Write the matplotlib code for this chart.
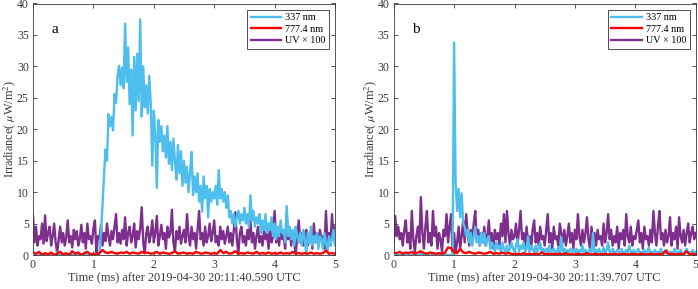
import numpy as np
import matplotlib
matplotlib.use('Agg')
import matplotlib.pyplot as plt

plt.rcParams['font.family'] = ['Liberation Serif', 'DejaVu Serif']
plt.rcParams['mathtext.fontset'] = 'stix'

# time axis (ms), 0.025 ms step for 337 nm / UV, 0.05 ms step for 777.4 nm
t_fine = np.arange(201) * 0.025
t_coarse = np.arange(101) * 0.05

# ---- panel a: 2019-04-30 20:11:40.590 UTC ----
blue_a = [0.1, 0.1, 0.0, 0.1, 0.0, 0.1, 0.1, 0.0, 0.1, 0.1, 0.0, 0.1, 0.1, 0.0, 0.1, 0.0, 0.4, 0.1, 0.0, 0.1,
          0.1, 0.0, 0.1, 0.1, 0.0, 0.1, 0.0, 0.1, 0.1, 0.0, 0.1, 0.1, 0.0, 0.1, 0.0, 0.1, 0.1, 0.0, 0.1, 0.1,
          0.0, 0.1, 0.1, 0.0, 0.2, 3.5, 7.8, 12.5, 16.8, 15.0, 22.4, 20.5, 22.0, 19.8, 25.6, 24.2, 28.5, 30.1, 27.0, 29.8,
          26.5, 36.8, 27.5, 33.0, 24.0, 29.5, 19.0, 31.5, 23.0, 32.0, 24.5, 37.5, 22.0, 30.0, 23.5, 27.0, 22.5, 28.5, 24.0, 14.2,
          23.0, 19.5, 10.7, 21.5, 18.0, 20.5, 16.5, 19.0, 15.5, 20.5, 14.5, 18.0, 13.5, 18.5, 15.0, 12.0, 17.5, 13.0, 16.5, 11.0,
          15.0, 11.5, 14.0, 10.0, 13.0, 16.4, 9.5, 12.5, 10.0, 13.0, 8.5, 11.0, 6.9, 12.5, 9.0, 11.0, 6.0, 10.5, 8.5, 10.0,
          9.0, 11.0, 8.0, 13.5, 9.0, 10.5, 8.5, 10.0, 7.5, 9.5, 6.0, 7.0, 5.0, 6.5, 4.5, 6.0, 7.0, 5.0, 6.5, 5.5,
          7.5, 5.0, 6.5, 4.5, 9.5, 5.5, 7.0, 4.5, 6.0, 5.0, 6.5, 3.5, 5.5, 4.0, 6.5, 3.5, 5.0, 4.0, 6.0, 3.0,
          5.0, 2.5, 4.5, 3.0, 5.5, 3.5, 4.0, 2.0, 7.8, 3.0, 4.5, 2.5, 4.0, 1.5, 4.5, 3.0, 2.0, 3.5, 1.5, 4.0,
          2.5, 0.0, 3.5, 2.0, 4.5, 1.5, 3.0, 2.0, 3.5, 1.0, 3.0, 2.5, 1.0, 3.5, 2.0, 0.5, 3.0, 1.5, 2.5, 4.0,
          1.5]
uv_a = [6.2, 2.0, 4.5, 1.5, 3.0, 2.5, 5.0, 1.8, 6.3, 2.2, 3.5, 4.5, 1.5, 3.0, 5.0, 2.0, 0.3, 2.5, 4.5, 2.0,
        3.5, 1.5, 2.8, 5.5, 2.0, 3.0, 1.2, 4.0, 2.5, 3.8, 1.5, 2.5, 4.8, 2.0, 3.5, 1.0, 5.0, 2.5, 3.0, 1.8,
        4.2, 5.5, 0.2, 3.0, 2.5, 4.8, 1.5, 3.5, 2.2, 5.0, 3.0, 1.5, 3.8, 2.5, 4.5, 6.5, 2.0, 3.5, 1.8, 4.0,
        2.5, 6.0, 1.5, 3.5, 4.5, 2.0, 3.0, 5.0, 1.2, 3.8, 2.5, 4.2, 7.6, 2.0, 0.3, 3.5, 4.5, 2.0, 3.2, 5.5,
        2.0, 3.5, 6.2, 1.5, 3.0, 4.8, 2.5, 3.5, 1.0, 4.5, 2.8, 3.5, 7.2, 2.0, 0.5, 3.8, 2.5, 4.5, 1.8, 3.0,
        4.0, 2.0, 6.5, 3.0, 1.5, 4.5, 2.5, 3.5, 1.0, 4.0, 7.0, 2.5, 3.5, 1.5, 4.5, 2.0, 3.0, 5.0, 2.2, 3.5,
        5.5, 2.0, 3.0, 1.5, 4.5, 2.5, 3.8, 1.8, 3.0, 4.5, 2.0, 3.5, 1.5, 4.0, 6.8, 2.5, 0.2, 3.5, 4.5, 2.0,
        3.0, 1.5, 4.0, 2.5, 5.5, 2.0, 3.5, 1.0, 3.0, 4.5, 2.0, 3.0, 1.5, 4.0, 2.5, 3.5, 1.0, 4.5, 2.0, 3.0,
        7.0, 2.0, 3.5, 1.5, 4.5, 2.5, 3.0, 1.0, 6.5, 2.5, 4.0, 1.5, 3.5, 2.0, 0.2, 3.0, 5.5, 2.0, 3.5, 1.5,
        3.0, 4.0, 1.5, 2.5, 3.5, 1.0, 5.0, 2.0, 3.5, 1.5, 4.0, 2.5, 3.0, 1.0, 7.0, 2.0, 3.5, 1.5, 6.5, 2.5,
        4.5]
red_a = [0.4, 0.2, 0.5, 0.0, 0.3, 0.1, 0.4, 0.0, 0.2, 0.5, 0.1, 0.3, 0.0, 0.6, 0.2, 0.4, 0.0, 0.3, 0.5, 0.1,
         0.2, 0.0, 0.3, 0.8, 0.4, 0.3, 0.5, 0.3, 0.2, 0.4, 0.3, 0.5, 0.2, 0.4, 0.3, 0.2, 0.5, 0.3, 0.4, 0.2,
         0.3, 0.5, 0.2, 0.4, 0.3, 0.2, 0.3, 0.6, 0.2, 0.3, 0.4, 0.2, 0.3, 0.2, 0.5, 0.3, 0.2, 0.4, 0.3, 0.2,
         0.3, 0.2, 0.8, 0.3, 0.5, 0.2, 0.3, 0.6, 0.2, 0.3, 0.2, 0.4, 0.3, 0.2, 0.5, 0.2, 0.3, 0.2, 0.4, 0.2,
         0.3, 0.2, 0.4, 0.2, 0.3, 0.2, 0.5, 0.2, 0.3, 0.2, 0.3, 0.2, 0.4, 0.2, 0.3, 0.2, 0.3, 0.7, 0.2, 0.3,
         0.2]

# ---- panel b: 2019-04-30 20:11:39.707 UTC ----
blue_b = [0.0, 0.0, 0.0, 0.0, 0.0, 0.0, 0.0, 0.0, 0.0, 0.0, 0.0, 0.0, 0.0, 0.0, 0.0, 0.0, 0.0, 0.0, 0.4, 0.0,
          0.0, 0.0, 0.3, 0.0, 0.0, 0.0, 0.0, 0.0, 0.0, 0.0, 0.0, 0.0, 0.0, 0.0, 0.3, 0.0, 0.0, 0.0, 0.0, 0.0,
          33.8, 11.5, 7.0, 10.5, 6.0, 9.8, 5.0, 4.5, 3.0, 4.0, 2.0, 3.5, 1.5, 3.0, 4.5, 2.0, 3.0, 1.5, 3.5, 2.0,
          3.5, 1.5, 2.5, 3.0, 1.0, 2.0, 1.5, 0.5, 2.0, 1.0, 1.5, 0.5, 2.0, 1.0, 0.5, 1.5, 0.5, 1.0, 2.0, 1.0,
          0.5, 1.5, 2.5, 0.5, 1.5, 1.0, 2.0, 0.5, 1.0, 3.0, 0.5, 1.5, 1.0, 0.3, 1.5, 0.5, 1.0, 2.0, 0.5, 1.0,
          0.3, 1.0, 0.5, 1.5, 0.3, 0.8, 1.0, 0.3, 0.5, 1.2, 0.3, 2.8, 0.5, 1.0, 0.3, 0.8, 0.5, 1.0, 0.3, 0.8,
          0.5, 1.0, 0.3, 0.8, 0.5, 1.5, 0.3, 0.8, 0.5, 0.3, 1.0, 0.5, 3.5, 0.3, 0.8, 0.5, 1.0, 0.3, 0.5, 1.2,
          0.3, 0.8, 2.0, 0.5, 0.3, 1.0, 0.5, 0.3, 0.8, 0.5, 0.3, 1.0, 0.3, 0.5, 0.8, 0.3, 1.5, 0.5, 0.3, 0.8,
          0.3, 0.5, 1.0, 0.3, 0.5, 0.3, 0.8, 0.3, 0.5, 1.2, 0.3, 0.5, 0.3, 0.8, 0.3, 0.5, 0.3, 1.0, 0.3, 0.5,
          0.3, 0.8, 0.3, 0.5, 0.3, 0.3, 1.0, 0.3, 0.5, 0.3, 0.8, 0.3, 0.3, 0.5, 1.0, 0.3, 0.5, 0.3, 0.8, 0.3,
          0.5]
uv_b = [2.0, 6.2, 3.0, 4.5, 2.5, 3.5, 1.5, 4.0, 5.5, 2.0, 3.5, 1.0, 7.0, 2.5, 0.5, 3.0, 4.5, 2.0, 9.2, 3.5,
        1.0, 4.5, 7.0, 2.0, 3.5, 1.5, 7.0, 3.0, 4.5, 1.0, 3.5, 2.5, 0.5, 4.0, 3.0, 6.5, 2.0, 4.5, 6.5, 0.5,
        3.5, 0.5, 2.0, 4.5, 1.0, 3.0, 5.5, 2.0, 6.5, 3.5, 1.5, 4.0, 2.5, 5.0, 7.0, 2.5, 4.0, 1.5, 3.5, 2.0,
        4.5, 1.5, 3.0, 5.5, 2.0, 3.5, 1.0, 4.0, 2.5, 3.5, 1.5, 5.0, 3.0, 6.5, 2.0, 7.0, 3.5, 1.5, 4.0, 2.5,
        3.0, 5.0, 1.5, 4.0, 7.0, 2.5, 3.5, 1.5, 4.5, 2.0, 3.0, 1.0, 4.0, 5.5, 2.0, 3.5, 1.5, 4.5, 2.5, 3.0,
        1.5, 4.0, 6.5, 2.0, 3.5, 1.0, 4.5, 2.5, 3.0, 1.5, 5.0, 3.5, 2.0, 4.0, 1.5, 3.0, 5.0, 2.0, 3.5, 1.0,
        4.0, 2.5, 6.5, 3.0, 1.5, 4.0, 2.0, 3.5, 6.0, 2.5, 1.0, 4.5, 2.0, 3.5, 1.5, 4.0, 2.5, 3.0, 1.5, 5.0,
        2.0, 3.5, 6.5, 2.5, 4.0, 1.5, 3.0, 2.0, 4.5, 1.0, 3.5, 2.5, 4.0, 1.5, 6.5, 3.0, 2.0, 4.5, 1.5, 3.0,
        2.5, 4.0, 5.5, 2.0, 3.5, 1.0, 4.5, 2.5, 3.0, 1.5, 4.0, 2.0, 7.0, 3.5, 1.5, 4.5, 7.0, 2.5, 3.5, 1.5,
        4.0, 2.0, 3.0, 6.0, 1.5, 3.5, 2.5, 4.5, 1.0, 6.0, 3.0, 2.0, 4.0, 1.5, 3.5, 5.0, 2.0, 3.5, 4.5, 2.5,
        3.5]
red_b = [0.4, 0.3, 0.5, 0.2, 0.4, 0.3, 0.5, 0.2, 0.4, 0.6, 0.3, 0.2, 0.4, 0.3, 0.2, 0.3, 0.2, 0.4, 1.2, 1.1,
         0.4, 0.3, 1.0, 0.4, 0.3, 0.5, 0.3, 0.2, 0.4, 0.3, 0.2, 0.3, 0.5, 0.2, 0.3, 0.2, 0.4, 0.2, 0.3, 0.2,
         0.1, 0.2, 0.1, 0.3, 0.1, 0.2, 0.1, 0.2, 0.1, 0.4, 0.1, 0.2, 0.1, 0.2, 0.1, 0.2, 0.1, 0.3, 0.1, 0.1,
         0.1, 0.2, 0.1, 0.1, 0.3, 0.1, 0.1, 0.2, 0.1, 0.1, 0.2, 0.1, 0.1, 0.2, 0.1, 0.1, 0.2, 0.1, 0.1, 0.2,
         0.1, 0.1, 0.2, 0.1, 0.1, 0.2, 0.1, 0.1, 0.2, 0.1, 0.7, 0.1, 0.2, 0.1, 0.1, 0.2, 0.1, 0.6, 0.1, 0.2,
         0.1]

panels = [('a', '2019-04-30 20:11:40.590', blue_a, red_a, uv_a),
          ('b', '2019-04-30 20:11:39.707', blue_b, red_b, uv_b)]

c_blue = '#4DBEEE'
c_red = '#FF0000'
c_uv = '#7E2F8E'
grey = '#3a3a3a'

fig = plt.figure(figsize=(6.98, 2.89), dpi=100)
lefts = [33 / 698, 393.7 / 698]

for left, (tag, stamp, blue, red, uv) in zip(lefts, panels):
    ax = fig.add_axes([left, 34 / 289, 302 / 698, 251.5 / 289])
    l1, = ax.plot(t_fine, blue, color=c_blue, lw=1.7, zorder=3)
    l2, = ax.plot(t_coarse, red, color=c_red, lw=1.7, zorder=4)
    l3, = ax.plot(t_fine, uv, color=c_uv, lw=1.7, zorder=2)
    ax.set_xlim(0, 5)
    ax.set_ylim(0, 40)
    ax.set_xticks(range(6))
    ax.set_yticks(range(0, 41, 5))
    ax.tick_params(direction='in', top=True, right=True, length=3, width=0.6,
                   labelsize=8.5, colors=grey, pad=3)
    for s in ax.spines.values():
        s.set_color(grey)
        s.set_linewidth(0.6)
    ax.set_xlabel('Time (ms) after ' + stamp + ' UTC', fontsize=8.8, color=grey, labelpad=1)
    ax.set_ylabel(r'Irradiance( $\mu$W/m$^2$)', fontsize=8.8, color=grey, labelpad=-1)
    ax.text(0.3, 35.3, tag, fontsize=11, color='black')
    leg = ax.legend([l1, l2, l3], ['337 nm', '777.4 nm', 'UV × 100'], loc='upper right',
                    fontsize=7.3, frameon=True, fancybox=False, handlelength=3.0,
                    borderpad=0.35, labelspacing=0.25, handletextpad=0.4,
                    borderaxespad=0.6, edgecolor='black')
    leg.get_frame().set_linewidth(0.6)

fig.savefig('out.png', dpi=100)
